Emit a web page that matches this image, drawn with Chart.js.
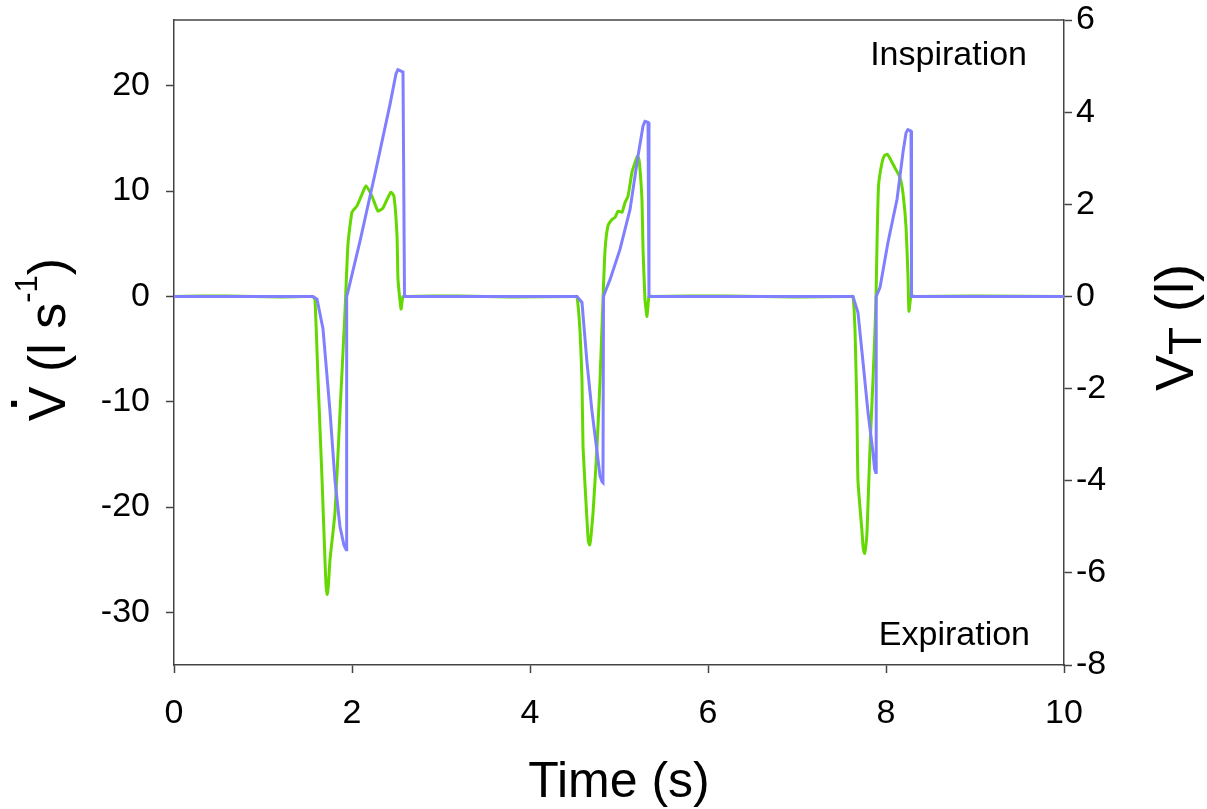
<!DOCTYPE html>
<html>
<head>
<meta charset="utf-8">
<script src="https://cdn.jsdelivr.net/npm/chart.js@4/dist/chart.umd.min.js"></script>
<style>
html,body{margin:0;padding:0;background:#fff;}
canvas{display:block;}
</style>
</head>
<body>
<canvas id="grafico" width="1207" height="809"></canvas>
<script>
//datos leidos de la figura
//flujo (l/s), eje izquierdo
const flujoTiempo=[0,0.6,1.2,1.53,1.56,1.584,1.618,1.663,1.697,1.71,1.722,1.735,1.753,1.809,1.865,1.921,1.955,2.0,2.056,2.112,2.157,2.225,2.292,2.348,2.393,2.438,2.472,2.506,2.517,2.551,2.573,2.62,3.2,3.8,4.5,
    4.528,4.562,4.584,4.596,4.64,4.655,4.67,4.685,4.708,4.753,4.787,4.82,4.843,4.876,4.921,4.955,4.989,5.034,5.067,5.101,5.146,5.18,5.205,5.222,5.236,5.258,5.27,5.292,5.315,5.337,5.38,6.2,7.0,7.6,
    7.629,7.652,7.674,7.685,7.73,7.745,7.76,7.775,7.787,7.82,7.854,7.876,7.888,7.899,7.916,7.955,7.985,8.015,8.045,8.101,8.157,8.191,8.225,8.247,8.258,8.281,8.33,9.0,10];
const flujoValores=[0,0.05,-0.05,0,0,-0.3,-7.8,-17.3,-25.2,-27.6,-28.3,-27.4,-25,-20.5,-11,-1.5,5,8.0,8.6,9.7,10.5,9.5,8.1,8.4,9.2,9.9,9.5,5.7,1.6,-1.2,0,0,0.05,-0.05,0,
    0,-3.3,-7.9,-14.3,-21.2,-23.2,-23.6,-22.8,-20.6,-14.3,-7.9,-0.3,4.4,6.7,7.3,7.5,8.1,8.0,8.9,9.5,11.8,12.7,13.3,13.1,12.1,9.2,4.5,-0.3,-1.9,0,0,0.05,-0.05,0,
    0,-3.3,-11.2,-17.5,-22.3,-24.0,-24.4,-23.6,-22.3,-14.4,-7.9,-3.2,0,5,10.5,12.7,13.4,13.5,13.1,12.2,11.3,9.8,6.6,1.9,-1.4,0,0,0.05,0];

//volumen (l), eje derecho
const volTiempo=[0,1.56,1.607,1.674,1.753,1.809,1.865,1.91,1.935,1.94,1.955,2.09,2.27,2.427,2.494,2.515,2.54,2.573,2.59,
    4.528,4.584,4.64,4.697,4.753,4.787,4.81,4.82,4.826,4.843,4.9,5.011,5.124,5.213,5.27,5.292,5.326,5.337,
    7.629,7.685,7.742,7.798,7.854,7.872,7.885,7.888,7.89,7.933,8.022,8.124,8.191,8.225,8.245,8.281,8.287,10];
const volValores=[0,0,-0.06,-0.7,-2.5,-4.0,-5.0,-5.4,-5.5,0,0.11,1.2,2.76,4.17,4.83,4.92,4.9,4.87,0,
    0,-0.13,-1.43,-2.5,-3.37,-3.9,-4.02,-4.04,0,0.09,0.37,1.02,1.89,3.04,3.7,3.8,3.78,0,
    0,-0.35,-1.43,-2.52,-3.39,-3.75,-3.82,-3.82,0,0.2,1.17,2.11,3.13,3.55,3.62,3.59,0,0];

const ticksX=[0,2,4,6,8,10];
const ticksIzq=[-30,-20,-10,0,10,20];
const ticksDer=[-8,-6,-4,-2,0,2,4,6];

const FUENTE="'Liberation Sans', Arial, Helvetica, sans-serif";
const COLOR_EJE='#444';

function armarPuntos(xs,ys)
{
    return xs.map((x,i)=>({x:x,y:ys[i]}));
}

//titulos de ejes con punto, superindice y subindice
const pluginTextos={
    id:'textos',
    afterDraw(chart)
    {
        const ctx=chart.ctx;
        const area=chart.chartArea;
        ctx.save();
        //borde superior
        ctx.strokeStyle=COLOR_EJE;
        ctx.lineWidth=1.5;
        ctx.beginPath();
        ctx.moveTo(area.left,area.top);
        ctx.lineTo(area.right,area.top);
        ctx.stroke();

        ctx.fillStyle='#000';
        ctx.textBaseline='alphabetic';
        ctx.font='34px '+FUENTE;
        ctx.textAlign='right';
        ctx.fillText('Inspiration',1027,65);
        ctx.fillText('Expiration',1030,645);

        ctx.font='50px '+FUENTE;
        ctx.textAlign='center';
        ctx.fillText('Time (s)',(area.left+area.right)/2,797);

        //eje izquierdo
        ctx.textAlign='left';
        const cy=(area.top+area.bottom)/2;
        ctx.save();
        ctx.translate(65,cy-3);
        ctx.rotate(-Math.PI/2);
        ctx.font='52px '+FUENTE;
        const wV=ctx.measureText('V ').width;
        const wA=ctx.measureText('(l s').width;
        const wC=ctx.measureText(')').width;
        ctx.font='31px '+FUENTE;
        const wS=ctx.measureText('-1').width;
        let x0=-(wV+wA+wS+wC)/2;
        ctx.font='52px '+FUENTE;
        ctx.fillText('V ',x0,0);
        const wVsolo=ctx.measureText('V').width;
        ctx.fillRect(x0+wVsolo/2-3,-54,6,6);
        ctx.fillText('(l s',x0+wV,0);
        ctx.font='31px '+FUENTE;
        ctx.fillText('-1',x0+wV+wA,-28);
        ctx.font='52px '+FUENTE;
        ctx.fillText(')',x0+wV+wA+wS,0);
        ctx.restore();

        //eje derecho
        ctx.save();
        ctx.translate(1193,cy-15);
        ctx.rotate(-Math.PI/2);
        ctx.font='54px '+FUENTE;
        const w1=ctx.measureText('V').width;
        const w3=ctx.measureText(' (l)').width;
        ctx.font='46px '+FUENTE;
        const w2=ctx.measureText('T').width;
        let x1=-(w1+w2+w3)/2;
        ctx.font='54px '+FUENTE;
        ctx.fillText('V',x1,0);
        ctx.font='46px '+FUENTE;
        ctx.fillText('T',x1+w1,8);
        ctx.font='54px '+FUENTE;
        ctx.fillText(' (l)',x1+w1+w2,0);
        ctx.restore();

        ctx.restore();
    }
};

//fija el tamaño del eje y quita el relleno extra que piden las etiquetas
function fijarTam(prop,valor)
{
    return s=>{
        s[prop]=valor;
        s.paddingTop=0;s.paddingBottom=0;s.paddingLeft=0;s.paddingRight=0;
    };
}

function ejeBase(extra,relleno)
{
    return Object.assign({
        type:'linear',
        border:{display:true,color:COLOR_EJE,width:1.5},
        grid:{display:true,drawOnChartArea:false,drawTicks:true,tickLength:8,color:COLOR_EJE,tickWidth:1.5},
        ticks:{color:'#000',padding:relleno,font:{size:34,family:FUENTE}}
    },extra);
}

const ctx=document.getElementById('grafico');
new Chart(ctx,{
    type:'scatter',
    data:{
        datasets:[
            {
                label:'VT',
                data:armarPuntos(volTiempo,volValores),
                yAxisID:'y1',
                showLine:true,
                borderColor:'rgb(128,128,255)',
                borderWidth:3,
                pointRadius:0,
                tension:0,
                order:0
            },
            {
                label:'Flujo',
                data:armarPuntos(flujoTiempo,flujoValores),
                yAxisID:'y',
                showLine:true,
                borderColor:'rgb(100,216,0)',
                borderWidth:3,
                pointRadius:0,
                tension:0.15,
                order:1
            }
        ]
    },
    options:{
        responsive:false,
        animation:false,
        layout:{padding:{top:20,left:0,right:0,bottom:0}},
        plugins:{legend:{display:false},tooltip:{enabled:false}},
        scales:{
            x:ejeBase({
                position:'bottom',min:0,max:10,
                afterBuildTicks:s=>{s.ticks=ticksX.map(v=>({value:v}));},
                afterFit:fijarTam('height',144)
            },20),
            y:ejeBase({
                position:'left',min:-35,max:26.25,
                afterBuildTicks:s=>{s.ticks=ticksIzq.map(v=>({value:v}));},
                afterFit:fijarTam('width',174)
            },16),
            y1:ejeBase({
                position:'right',min:-8,max:6,
                afterBuildTicks:s=>{s.ticks=ticksDer.map(v=>({value:v}));},
                afterFit:fijarTam('width',143)
            },4)
        }
    },
    plugins:[pluginTextos]
});
</script>
</body>
</html>
